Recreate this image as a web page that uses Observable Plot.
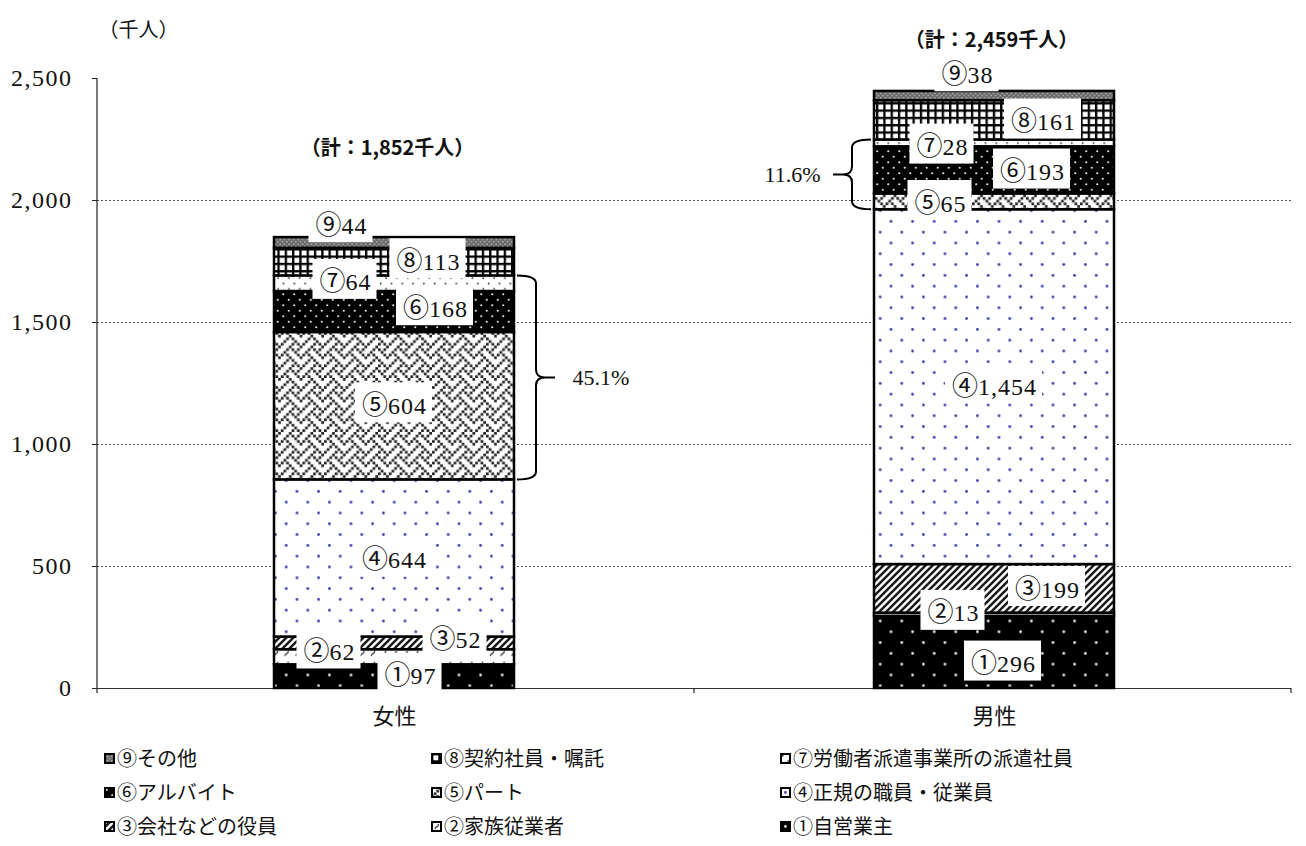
<!DOCTYPE html>
<html><head><meta charset="utf-8">
<script src="https://cdn.jsdelivr.net/npm/d3@7"></script>
<script src="https://cdn.jsdelivr.net/npm/@observablehq/plot@0.6"></script>
<style>
body{margin:0;background:#fff;}
#wrap{position:relative;width:1306px;height:846px;overflow:hidden;}
.leg{position:absolute;display:flex;align-items:center;font-size:20px;font-family:"Noto Sans CJK JP",sans-serif;line-height:1;white-space:nowrap;color:#111;}
.leg svg{margin-right:2px;display:block}
#chart g[aria-label="y-axis tick label"] text{letter-spacing:1.5px;}
</style></head><body><div id="wrap"><div id="chart"></div></div>
<script>
// ---- data ----
const categories = ["女性", "男性"];
const seriesNames = ["①自営業主", "②家族従業者", "③会社などの役員", "④正規の職員・従業員", "⑤パート", "⑥アルバイト", "⑦労働者派遣事業所の派遣社員", "⑧契約社員・嘱託", "⑨その他"];
const seriesMarks = ["①", "②", "③", "④", "⑤", "⑥", "⑦", "⑧", "⑨"];
const femaleValues = [97, 62, 52, 644, 604, 168, 64, 113, 44];
const maleValues = [296, 13, 199, 1454, 65, 193, 28, 161, 38];
const totals = [1852, 2459];
const sharePct = ["45.1%", "11.6%"];
const shareSeries = [4, 5, 6];            // ⑤⑥⑦
const yTicks = [0, 500, 1000, 1500, 2000, 2500];
const gridValues = [500, 1000, 1500, 2000];
const unitLabel = "（千人）";
const legendOrder = [[8, 7, 6], [5, 4, 3], [2, 1, 0]];

// ---- layout (offsets in px) ----
const labelOffsets = {
  "女性": [[16, 0], [-65, -5], [61, -3], [0, 2], [0, 0], [41, -3], [-49, -1], [34, 0], [-53, -17]],
  "男性": [[9, 12], [-41, -1], [53, 1], [0, 0], [-54, 2], [38, 2], [-52, 4], [49, 2], [-27, -21]]
};
const totalOffsets = {"女性": [-7, -89], "男性": [-3, -51]};

const valuesByCat = {"女性": femaleValues, "男性": maleValues};
const rows = [];
for (const cat of categories) {
  let acc = 0;
  valuesByCat[cat].forEach((v, i) => {
    rows.push({cat, i, name: seriesNames[i], value: v, y1: acc, y2: acc + v, fill: `url(#pat${i + 1})`});
    acc += v;
  });
}
const tops = categories.map(c => d3.sum(valuesByCat[c]));
const shareSpans = categories.map(c => {
  const r = rows.filter(d => d.cat === c && shareSeries.includes(d.i));
  return {cat: c, lo: d3.min(r, d => d.y1), hi: d3.max(r, d => d.y2)};
});

const serif = '"Liberation Serif","Noto Sans CJK JP",serif';
const gothic = '"Noto Sans CJK JP",sans-serif';

const labelMarks = rows.map(r => Plot.text([r], {
  x: "cat", y: d => (d.y1 + d.y2) / 2,
  text: d => seriesMarks[d.i] + d3.format(",")(d.value),
  dx: labelOffsets[r.cat][r.i][0], dy: labelOffsets[r.cat][r.i][1],
  fontSize: 24, fill: "#111", fontFamily: serif
}));

const totalMarks = categories.map((c, k) => Plot.text([{cat: c, top: tops[k], total: totals[k]}], {
  x: "cat", y: "top", text: d => `（計：${d3.format(",")(d.total)}千人）`,
  dx: totalOffsets[c][0], dy: totalOffsets[c][1],
  fontSize: 20, fontWeight: "bold", fontFamily: gothic, fill: "#111"
}));

const pctMarks = [
  Plot.text([shareSpans[0]], {x: "cat", y: d => (d.lo + d.hi) / 2, text: () => sharePct[0], dx: 178, textAnchor: "start", fontSize: 22, fontFamily: serif, fill: "#111"}),
  Plot.text([shareSpans[1]], {x: "cat", y: d => (d.lo + d.hi) / 2, text: () => sharePct[1], dx: -174, textAnchor: "end", fontSize: 22, fontFamily: serif, fill: "#111"})
];

const plot = Plot.plot({
  width: 1306, height: 740,
  marginLeft: 97, marginRight: 15, marginTop: 78, marginBottom: 52,
  x: {domain: categories, paddingInner: 0.6, paddingOuter: 0.295},
  y: {domain: [0, 2500]},
  color: {type: "identity"},
  style: {fontFamily: serif, background: "white", color: "#111", overflow: "visible"},
  marks: [
    Plot.ruleY(gridValues, {stroke: "#555", strokeDasharray: "2,2", strokeWidth: 1}),
    Plot.ruleY([0], {stroke: "#333", strokeWidth: 1.2}),
    Plot.barY(rows, {x: "cat", y1: "y1", y2: "y2", fill: "fill", stroke: "#000", strokeWidth: 2.5}),
    Plot.axisY({ticks: yTicks, tickFormat: d3.format(","), tickSize: 5, tickPadding: 20, fontSize: 24, label: null, stroke: "#222"}),
    Plot.axisX({tickSize: 0, tickPadding: 20, fontSize: 22, fontFamily: gothic, label: null}),
    ...labelMarks,
    ...totalMarks,
    ...pctMarks,
    Plot.text([unitLabel], {frameAnchor: "top-left", text: d => d, dx: 1, dy: -56, textAnchor: "start", fontSize: 20, fontFamily: gothic, fill: "#111"})
  ]
});

document.getElementById("chart").appendChild(plot);
const svg = d3.select(plot);

// weave bitmap (8x8) for ⑤
const weaveBits = [0x11, 0x2a, 0x44, 0xa2, 0x11, 0x28, 0x44, 0x8a];
const cell = 2.7;
let weaveRects = "";
weaveBits.forEach((b, r) => { for (let c = 0; c < 8; c++) if (b & (0x80 >> c)) weaveRects += `<rect x="${c * cell}" y="${r * cell}" width="${cell}" height="${cell}" fill="#222"/>`; });

// patterns
svg.insert("defs", ":first-child").html(`
<pattern id="pat1" patternUnits="userSpaceOnUse" width="21.6" height="21.6"><rect width="21.6" height="21.6" fill="#000"/><circle cx="5.4" cy="5.4" r="1.4" fill="#e6e6e6"/><circle cx="16.2" cy="16.2" r="1.4" fill="#e6e6e6"/></pattern>
<pattern id="pat2" patternUnits="userSpaceOnUse" width="21.6" height="10.8"><rect width="21.6" height="10.8" fill="#fff"/><path d="M4,8 q0.5,-2 2,-2.5 q1.5,-0.5 1.5,-2.5" fill="none" stroke="#333" stroke-width="1.3"/><path d="M15,8 q0.5,-2 2,-2.5 q1.5,-0.5 1.5,-2.5" fill="none" stroke="#333" stroke-width="1.3"/></pattern>
<pattern id="pat3" patternUnits="userSpaceOnUse" width="7" height="7"><rect width="7" height="7" fill="#fff"/><path d="M-1,8 L8,-1 M-1,1 L1,-1 M6,8 L8,6" stroke="#1a1a1a" stroke-width="2.5"/></pattern>
<pattern id="pat4" patternUnits="userSpaceOnUse" width="21.6" height="21.6"><rect width="21.6" height="21.6" fill="#fff"/><circle cx="5.4" cy="5.4" r="1.4" fill="#3c3cb0"/><circle cx="16.2" cy="16.2" r="1.4" fill="#3c3cb0"/></pattern>
<pattern id="pat5" patternUnits="userSpaceOnUse" width="${8 * cell}" height="${8 * cell}"><rect width="${8 * cell}" height="${8 * cell}" fill="#fff"/>${weaveRects}</pattern>
<pattern id="pat6" patternUnits="userSpaceOnUse" width="11" height="11"><rect width="11" height="11" fill="#000"/><circle cx="2.75" cy="2.75" r="1.1" fill="#e0e0e0"/><circle cx="8.25" cy="8.25" r="1.1" fill="#e0e0e0"/></pattern>
<pattern id="pat7" patternUnits="userSpaceOnUse" width="10.8" height="10.8"><rect width="10.8" height="10.8" fill="#fff"/><circle cx="2.7" cy="2.7" r="0.9" fill="#333"/><circle cx="8.1" cy="8.1" r="0.9" fill="#333"/></pattern>
<pattern id="pat8" patternUnits="userSpaceOnUse" width="7.3" height="7.3"><rect width="7.3" height="7.3" fill="#fff"/><rect width="7.3" height="2.3" fill="#000"/><rect width="2.3" height="7.3" fill="#000"/></pattern>
<pattern id="pat9" patternUnits="userSpaceOnUse" width="4.5" height="4.5"><rect width="4.5" height="4.5" fill="#6a6a6a"/><circle cx="1.1" cy="1.1" r="0.7" fill="#ddd"/><circle cx="3.4" cy="3.4" r="0.7" fill="#ddd"/></pattern>
`);

const xs = plot.scale("x"), ys = plot.scale("y");
const bw = xs.bandwidth;
const x0 = xs.range[0], x1 = xs.range[1];
const yBase = ys.apply(0), yTop = ys.apply(2500);
const stepPx = xs.apply(categories[1]) - xs.apply(categories[0]);

const over = svg.append("g");
over.append("line").attr("x1", x0).attr("x2", x0).attr("y1", yTop).attr("y2", yBase).attr("stroke", "#222").attr("stroke-width", 1.2);
const bounds = [x0, xs.apply(categories[0]) + bw + (stepPx - bw) / 2, x1];
bounds.forEach(b => over.append("line").attr("x1", b).attr("x2", b).attr("y1", yBase).attr("y2", yBase + 5).attr("stroke", "#222").attr("stroke-width", 1.2));

function brace(xEdge, dir, lo, hi) {
  const yt = ys.apply(hi), yb = ys.apply(lo), ym = (yt + yb) / 2;
  const a = xEdge + dir * 3, v = xEdge + dir * 22, t = xEdge + dir * 41, r = 8;
  return `M${a},${yt} Q${v},${yt} ${v},${yt + r} L${v},${ym - r} Q${v},${ym} ${t - dir * 10},${ym} L${t},${ym} M${t - dir * 10},${ym} Q${v},${ym} ${v},${ym + r} L${v},${yb - r} Q${v},${yb} ${a},${yb}`;
}
over.append("path").attr("d", brace(xs.apply(categories[0]) + bw, 1, shareSpans[0].lo, shareSpans[0].hi)).attr("fill", "none").attr("stroke", "#000").attr("stroke-width", 2);
over.append("path").attr("d", brace(xs.apply(categories[1]), -1, shareSpans[1].lo, shareSpans[1].hi)).attr("fill", "none").attr("stroke", "#000").attr("stroke-width", 2);

const barsG = svg.select('g[aria-label="bar"]').node();
barsG.parentNode.insertBefore(over.node(), barsG.nextSibling);

// label styling: larger circled digit, white boxes
const NS = "http://www.w3.org/2000/svg";
svg.selectAll("text").filter(function () { return /^[①-⑨]/.test(this.textContent); }).each(function () {
  const t = this.textContent;
  this.textContent = "";
  const a = document.createElementNS(NS, "tspan");
  a.setAttribute("font-size", "26");
  a.setAttribute("font-family", '"Noto Sans CJK JP"');
  a.textContent = t[0];
  const b = document.createElementNS(NS, "tspan");
  b.textContent = t.slice(1);
  b.setAttribute("letter-spacing", "1");
  this.appendChild(a); this.appendChild(b);
  const bb = this.getBBox();
  const cy = bb.y + bb.height / 2;
  const rect = document.createElementNS(NS, "rect");
  rect.setAttribute("x", bb.x - 7);
  rect.setAttribute("y", cy - 20);
  rect.setAttribute("width", bb.width + 12);
  rect.setAttribute("height", 40);
  rect.setAttribute("fill", "#fff");
  if (this.getAttribute("transform")) rect.setAttribute("transform", this.getAttribute("transform"));
  this.parentNode.insertBefore(rect, this);
});

// legend
const wrap = document.getElementById("wrap");
const colX = [104, 431, 780];
const rowY = [758, 792, 826];
legendOrder.forEach((row, ri) => row.forEach((si, ci) => {
  const div = document.createElement("div");
  div.className = "leg";
  div.style.left = colX[ci] + "px";
  div.style.top = (rowY[ri] - 11) + "px";
  div.style.height = "22px";
  div.innerHTML = `<svg width="11" height="11"><rect x="1" y="1" width="9" height="9" fill="url(#pat${si + 1})" stroke="#000" stroke-width="2"/></svg><span>${seriesNames[si]}</span>`;
  wrap.appendChild(div);
}));
</script></body></html>
